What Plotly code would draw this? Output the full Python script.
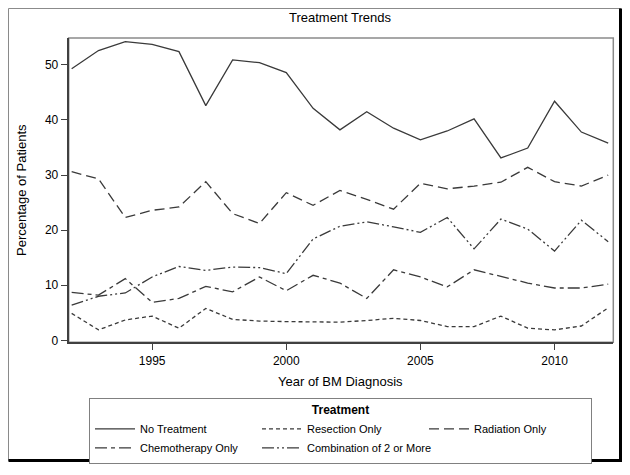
import plotly.graph_objects as go

years = list(range(1992, 2013))
no_treatment = [49.3, 52.6, 54.2, 53.7, 52.4, 42.6, 50.9, 50.4, 48.6, 42.1, 38.2,
                41.5, 38.5, 36.4, 38.0, 40.2, 33.1, 34.9, 43.4, 37.8, 35.8]
resection_only = [4.9, 1.9, 3.7, 4.4, 2.2, 5.8, 3.8, 3.5, 3.4, 3.3, 3.3,
                  3.6, 4.0, 3.6, 2.5, 2.5, 4.4, 2.2, 1.9, 2.6, 5.9]
radiation_only = [30.6, 29.3, 22.3, 23.6, 24.2, 28.8, 23.0, 21.2, 26.8, 24.5, 27.2,
                  25.6, 23.8, 28.5, 27.5, 28.0, 28.7, 31.4, 28.8, 28.0, 30.0]
chemo_only = [8.7, 8.2, 11.2, 6.9, 7.6, 9.8, 8.8, 11.5, 9.0, 11.8, 10.4,
              7.6, 12.8, 11.5, 9.7, 12.8, 11.6, 10.4, 9.5, 9.5, 10.2]
combination = [6.4, 8.0, 8.6, 11.5, 13.4, 12.7, 13.3, 13.2, 12.1, 18.4, 20.7,
               21.5, 20.6, 19.6, 22.3, 16.6, 22.0, 20.2, 16.2, 21.8, 17.9]

series_names = ["No Treatment", "Resection Only", "Radiation Only",
                "Chemotherapy Only", "Combination of 2 or More"]
series_values = [no_treatment, resection_only, radiation_only, chemo_only, combination]
dashes = ["solid", "4px,3px", "10px,5px", "12px,4px,4px,4px", "12px,3px,2px,3px,2px,3px"]

x_ticks = [1995, 2000, 2005, 2010]
y_ticks = [0, 10, 20, 30, 40, 50]

# The page body has an 8px default margin on every side; size the figure so the
# page fits the 630x475 window exactly and work in window coordinates.
OFF = 8
W, H = 630 - 2 * OFF, 475 - 2 * OFF
FONT = "Liberation Sans, Arial, sans-serif"
LINE = "#3a3a3a"

fig = go.Figure()
for name, vals, dash in zip(series_names, series_values, dashes):
    fig.add_trace(go.Scatter(x=years, y=vals, mode="lines", name=name,
                             line=dict(color=LINE, width=1.3, dash=dash)))

def px(x):
    return (x - OFF) / W

def py(y):
    return 1 - (y - OFF) / H

fig.update_layout(
    width=W, height=H,
    margin=dict(l=0, r=0, t=0, b=0),
    paper_bgcolor="white", plot_bgcolor="white",
    font=dict(family=FONT, color="black", size=12),
    showlegend=True,
    title=dict(text="Treatment Trends", x=px(340), xanchor="center",
               y=py(17), yanchor="middle",
               font=dict(family=FONT, size=13, color="black")),
    xaxis=dict(domain=[px(68.7), px(613.3)], range=[1991.89, 2012.19],
               tickvals=x_ticks, ticks="outside", ticklen=6, tickcolor="#404040",
               showline=True, linecolor="#404040", linewidth=2, showgrid=False,
               zeroline=False, tickfont=dict(size=12)),
    yaxis=dict(domain=[py(346), py(38.3)], range=[-0.36, 54.88],
               tickvals=y_ticks, ticks="outside", ticklen=6, tickcolor="#404040",
               showline=True, linecolor="#404040", linewidth=2, showgrid=False,
               zeroline=False, tickfont=dict(size=12)),
    legend=dict(orientation="h", x=px(89), xanchor="left", y=py(402), yanchor="top",
                bordercolor="#808080", borderwidth=1, bgcolor="white",
                title=dict(text="<b>Treatment</b>", side="top center",
                           font=dict(family=FONT, size=12)),
                font=dict(family=FONT, size=11),
                entrywidth=112, entrywidthmode="pixels",
                tracegroupgap=0, itemwidth=40),
    annotations=[
        dict(text="Year of BM Diagnosis", x=px(340), y=py(386), xref="paper", yref="paper",
             showarrow=False, xanchor="center", yanchor="middle",
             font=dict(family=FONT, size=13, color="black")),
        dict(text="Percentage of Patients", x=px(22), y=py(192), xref="paper", yref="paper",
             showarrow=False, textangle=-90, xanchor="center", yanchor="middle",
             font=dict(family=FONT, size=13, color="black")),
    ],
    shapes=[
        dict(type="rect", xref="paper", yref="paper", x0=px(68.7), x1=px(613.3),
             y0=py(346), y1=py(38.3), line=dict(color="#8a8a8a", width=1.5), layer="below"),
        dict(type="line", xref="paper", yref="paper", x0=px(8.5), x1=px(621), y0=py(8.5), y1=py(8.5),
             line=dict(color="#8a8a8a", width=1)),
        dict(type="line", xref="paper", yref="paper", x0=px(8.5), x1=px(8.5), y0=py(8.5), y1=py(466),
             line=dict(color="#8a8a8a", width=1)),
        dict(type="line", xref="paper", yref="paper", x0=px(620.5), x1=px(620.5), y0=py(8.5), y1=py(467),
             line=dict(color="black", width=3)),
        dict(type="line", xref="paper", yref="paper", x0=px(8.5), x1=px(622), y0=py(465.5), y1=py(465.5),
             line=dict(color="black", width=3)),
    ],
)

fig.write_html("out.html")
